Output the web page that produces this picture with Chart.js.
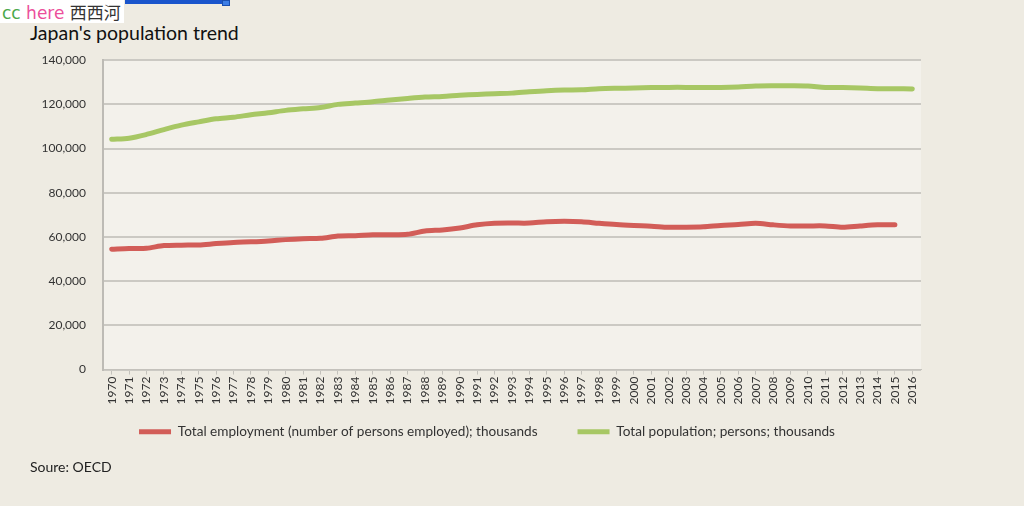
<!DOCTYPE html>
<html>
<head>
<meta charset="utf-8">
<script src="https://cdn.jsdelivr.net/npm/chart.js@4"></script>
<style>
  html, body { margin: 0; padding: 0; background: #eeebe2; width: 1024px; height: 506px; overflow: hidden; }
  #tag { position: absolute; left: 0; top: 0; width: 124px; height: 23px; background: #fff; font-family: "DejaVu Sans", sans-serif; font-size: 17px; line-height: 23px; white-space: nowrap; }
  #tag .cc { color: #4aa84a; padding-left: 2px; }
  #tag .here { color: #ec4f9b; }
  #tag .cn { color: #333; font-family: "Noto Sans CJK SC", sans-serif; font-size: 17px; }
  #bar { position: absolute; left: 125px; top: 0; width: 98px; height: 4px; background: #1a55cc; }
  #knob { position: absolute; left: 222px; top: 0; width: 8px; height: 6px; background: #3d7ee6; border: 1px solid #1a4fb0; box-sizing: border-box; }
  #title { position: absolute; left: 30px; top: 21px; font-family: Lato, sans-serif; font-size: 19.5px; color: #111; }
  #source { position: absolute; left: 30px; top: 458px; font-family: Lato, sans-serif; font-size: 14px; color: #222; }
  #wrap { position: absolute; left: 0; top: 36px; width: 974px; height: 434px; }
</style>
</head>
<body>
<div id="tag"><span class="cc">cc</span> <span class="here">here</span> <span class="cn">西西河</span></div>
<div id="bar"></div><div id="knob"></div>
<div id="title">Japan's population trend</div>
<div id="wrap"><canvas id="chart"></canvas></div>
<div id="source">Soure: OECD</div>
<script>
const years = [];
for (let y = 1970; y <= 2016; y++) years.push(String(y));

// thousands
const employment = [
  54500, 54800, 54900, 56100, 56300, 56400, 57000, 57500, 57800, 58200,
  58800, 59200, 59400, 60400, 60600, 61000, 61000, 61200, 62700, 63200,
  64100, 65500, 66200, 66300, 66300, 66900, 67100, 66900, 66200, 65600,
  65200, 64900, 64400, 64400, 64600, 65200, 65600, 66200, 65500, 65000,
  65000, 65000, 64400, 65000, 65500, 65500, null
];
const population = [
  104200, 104700, 106400, 108600, 110600, 112100, 113500, 114200, 115300, 116200,
  117300, 118000, 118600, 120000, 120600, 121200, 122000, 122700, 123300, 123600,
  124100, 124500, 124800, 125100, 125700, 126200, 126500, 126600, 127100, 127300,
  127400, 127600, 127700, 127700, 127700, 127700, 127900, 128300, 128400, 128400,
  128300, 127700, 127600, 127400, 127100, 127100, 127000
];
const yTicks = [0, 20000, 40000, 60000, 80000, 100000, 120000, 140000];

const seriesNames = [
  'Total employment (number of persons employed); thousands',
  'Total population; persons; thousands'
];
const seriesColors = ['#d25d58', '#a7c764'];

const legendPad = 40;
const legendFont = 13.6;

const plotBg = {
  id: 'plotBg',
  beforeDraw(chart) {
    const a = chart.chartArea, ctx = chart.ctx;
    ctx.save();
    ctx.fillStyle = '#f3f1eb';
    ctx.fillRect(a.left, a.top, a.right - a.left, a.bottom - a.top);
    ctx.restore();
  }
};

// nudge the legend: a bit right, and up close under the year labels
const legendShift = {
  id: 'legendShift',
  afterLayout(chart) {
    const lg = chart.legend;
    lg.left = 53;
    const h = lg.bottom - lg.top;
    lg.top = 397 - legendPad - 8;
    lg.bottom = lg.top + h;
  }
};

const ctx = document.getElementById('chart').getContext('2d');
new Chart(ctx, {
  type: 'line',
  data: {
    labels: years,
    datasets: [
      { label: seriesNames[0], data: employment, borderColor: seriesColors[0], backgroundColor: seriesColors[0] },
      { label: seriesNames[1], data: population, borderColor: seriesColors[1], backgroundColor: seriesColors[1] }
    ]
  },
  options: {
    responsive: true,
    maintainAspectRatio: false,
    animation: false,
    layout: { padding: { top: 6, right: 53, left: 0, bottom: 0 } },
    elements: {
      line: { borderWidth: 5, tension: 0.3, borderCapStyle: 'round', borderJoinStyle: 'round' },
      point: { radius: 0 }
    },
    scales: {
      x: {
        offset: true,
        grid: { display: true, drawOnChartArea: false, color: '#c4c2bc', tickLength: 5, lineWidth: 1 },
        border: { color: '#c4c2bc' },
        ticks: {
          autoSkip: false, minRotation: 90, maxRotation: 90, padding: 2,
          color: '#333', font: { family: 'Lato', size: 12 }
        }
      },
      y: {
        min: 0, max: 140000,
        afterBuildTicks: s => { s.ticks = yTicks.map(v => ({ value: v })); },
        afterFit: s => { s.width = 103; },
        grid: { color: '#cbc9c3', lineWidth: 2, drawTicks: false },
        border: { color: '#bdbbb5', width: 2 },
        ticks: {
          padding: 17, color: '#333', font: { family: 'Lato', size: 12 },
          callback: v => v.toLocaleString('en-US')
        }
      }
    },
    plugins: {
      legend: {
        position: 'bottom',
        labels: {
          boxWidth: 32, boxHeight: 5, padding: legendPad, color: '#333',
          font: { family: 'Lato', size: legendFont },
          generateLabels: chart => Chart.defaults.plugins.legend.labels.generateLabels(chart)
            .map(l => Object.assign(l, { lineWidth: 0 }))
        }
      },
      tooltip: { enabled: false }
    }
  },
  plugins: [plotBg, legendShift]
});
</script>
</body>
</html>
